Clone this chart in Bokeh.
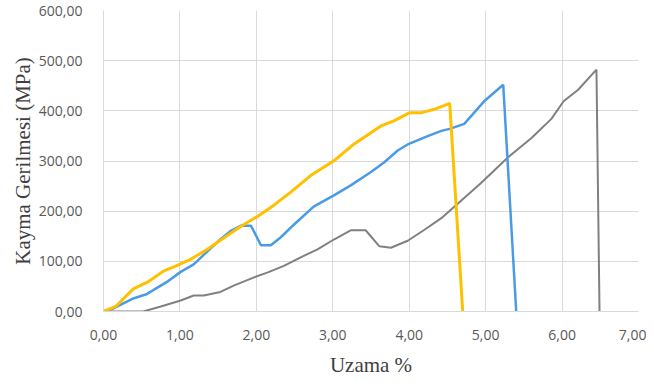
from bokeh.plotting import figure
from bokeh.models import FixedTicker, Range1d
from bokeh.embed import file_html
from bokeh.resources import INLINE

# ---- data ----
yellow_x = [0, 0.16, 0.39, 0.58, 0.79, 0.92, 1.14, 1.36, 1.53, 1.80, 2.01, 2.23, 2.45, 2.71, 3.02, 3.28, 3.63, 3.80, 4.00, 4.15, 4.33, 4.53, 4.70]
yellow_y = [0, 10, 45, 59, 81, 89, 104, 124, 142, 170, 189, 212, 238, 271, 301, 334, 370, 380, 396, 396, 403, 415, 0]

blue_x = [0, 0.13, 0.39, 0.57, 0.83, 1.01, 1.18, 1.36, 1.53, 1.66, 1.80, 1.93, 2.06, 2.19, 2.32, 2.49, 2.75, 3.02, 3.24, 3.50, 3.67, 3.85, 3.98, 4.25, 4.42, 4.53, 4.72, 4.98, 5.23, 5.40]
blue_y = [0, 6, 26, 35, 59, 79, 94, 120, 144, 160, 171, 171, 132, 132, 148, 173, 209, 232, 252, 278, 297, 321, 333, 350, 360, 364, 374, 419, 452, 0]

gray_x = [0, 0.52, 0.75, 1.01, 1.18, 1.31, 1.53, 1.71, 1.97, 2.15, 2.36, 2.58, 2.80, 3.02, 3.24, 3.43, 3.61, 3.76, 3.98, 4.20, 4.42, 4.59, 4.94, 5.29, 5.60, 5.86, 6.02, 6.21, 6.45, 6.49]
gray_y = [0, 0, 10, 22, 32, 32, 39, 52, 68, 78, 91, 108, 124, 144, 162, 162, 130, 127, 141, 163, 186, 209, 256, 307, 346, 384, 419, 442, 482, 0]

x_ticks = [0, 1, 2, 3, 4, 5, 6, 7]
x_tick_labels = ["0,00", "1,00", "2,00", "3,00", "4,00", "5,00", "6,00", "7,00"]
y_ticks = [0, 100, 200, 300, 400, 500, 600]
y_tick_labels = ["0,00", "100,00", "200,00", "300,00", "400,00", "500,00", "600,00"]

x_title = "Uzama %"
y_title = "Kayma Gerilmesi (MPa)"

p = figure(width=646, height=379, output_backend="svg", toolbar_location=None,
           x_range=Range1d(0, 7), y_range=Range1d(0, 600),
           min_border_left=103, min_border_right=8, min_border_top=10, min_border_bottom=60)
p.outline_line_color = None
p.background_fill_color = "white"
p.border_fill_color = "white"

grid_col = "#d9d9d9"
for g in (p.xgrid, p.ygrid):
    g.grid_line_color = grid_col
    g.grid_line_width = 1

p.xaxis.ticker = FixedTicker(ticks=x_ticks)
p.yaxis.ticker = FixedTicker(ticks=y_ticks)
p.xaxis.major_label_overrides = {t: l for t, l in zip(x_ticks, x_tick_labels)}
p.yaxis.major_label_overrides = {t: l for t, l in zip(y_ticks, y_tick_labels)}

for ax in (p.xaxis, p.yaxis):
    ax.axis_line_color = grid_col
    ax.major_tick_line_color = None
    ax.minor_tick_line_color = None
    ax.major_label_text_font = "Open Sans"
    ax.major_label_text_font_size = "14px"
    ax.major_label_text_color = "#595959"
    ax.axis_label_text_font = "Liberation Serif"
    ax.axis_label_text_font_size = "21px"
    ax.axis_label_text_font_style = "normal"
    ax.axis_label_text_color = "#404040"

p.xaxis.major_label_standoff = 12
p.yaxis.major_label_standoff = 15
p.xaxis.axis_label = x_title
p.yaxis.axis_label = y_title
p.xaxis.axis_label_standoff = 10
p.yaxis.axis_label_standoff = 1

p.line(gray_x, gray_y, line_color="#808080", line_width=2)
p.line(blue_x, blue_y, line_color="#4a9be6", line_width=2.5)
p.line(yellow_x, yellow_y, line_color="#ffc000", line_width=3)

open("out.html", "w").write(file_html(p, INLINE))
